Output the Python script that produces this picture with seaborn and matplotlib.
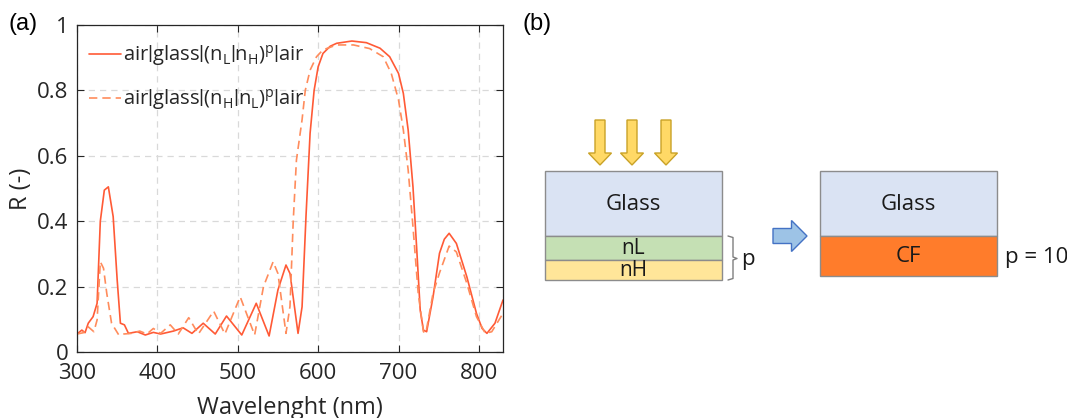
import matplotlib
matplotlib.use("Agg")
import matplotlib.pyplot as plt
import matplotlib.patches as mpatches
import seaborn as sns
import pandas as pd

# -- Data -----------------------------------------------------------------------
wl_lh = [300, 306, 310, 314, 320, 325, 329, 334, 339, 345, 350, 354, 359, 364,
         375, 385, 395, 404, 420, 432, 443, 457, 472, 486, 505, 523, 539, 550,
         560, 565, 575, 580, 585, 590, 595, 600, 606, 615, 623, 642, 660, 677,
         689, 700, 706, 712, 718, 722.5, 727, 731, 735, 743, 751, 757, 763, 772,
         785, 797, 804, 810, 820, 830]
r_lh = [0.055, 0.067, 0.059, 0.088, 0.108, 0.149, 0.40, 0.495, 0.505, 0.414,
        0.22, 0.088, 0.083, 0.057, 0.062, 0.052, 0.060, 0.055, 0.064, 0.074,
        0.057, 0.088, 0.055, 0.110, 0.052, 0.149, 0.049, 0.19, 0.266, 0.24,
        0.057, 0.138, 0.42, 0.669, 0.80, 0.872, 0.913, 0.935, 0.944, 0.951,
        0.946, 0.929, 0.903, 0.852, 0.791, 0.679, 0.505, 0.322, 0.128, 0.067,
        0.062, 0.169, 0.302, 0.345, 0.363, 0.332, 0.230, 0.118, 0.072, 0.057,
        0.088, 0.159]

wl_hl = [300, 308, 314, 321, 325, 329, 333, 337, 343, 352, 358, 368, 378, 387,
         395, 404, 416, 426, 439, 451, 470, 484, 503, 521, 532, 544, 550, 560,
         565, 569, 573, 580, 584, 590, 598, 606, 623, 644, 664, 681, 691, 700,
         706, 712, 718, 724.5, 731, 734, 743, 751, 763, 772, 785, 797, 808, 816,
         830]
r_hl = [0.055, 0.059, 0.077, 0.062, 0.098, 0.276, 0.256, 0.18, 0.088, 0.052,
        0.055, 0.057, 0.064, 0.055, 0.072, 0.057, 0.083, 0.055, 0.105, 0.055,
        0.125, 0.055, 0.169, 0.052, 0.20, 0.276, 0.24, 0.057, 0.14, 0.40, 0.587,
        0.71, 0.80, 0.862, 0.903, 0.924, 0.939, 0.939, 0.928, 0.903, 0.852,
        0.771, 0.679, 0.557, 0.383, 0.18, 0.062, 0.058, 0.18, 0.242, 0.324,
        0.306, 0.21, 0.108, 0.057, 0.062, 0.118]

x_ticks = [300, 400, 500, 600, 700, 800]
y_ticks = [0, 0.2, 0.4, 0.6, 0.8, 1]
y_tick_labels = ["0", "0.2", "0.4", "0.6", "0.8", "1"]

# pipes drawn with the narrower sans (Roboto) so they sit tight like the original
bar = r"\mathsf{|}"
label_lh = r"$\mathregular{air" + bar + "glass" + bar + "(n_L" + bar + "n_H)^p" + bar + "air}$"
label_hl = r"$\mathregular{air" + bar + "glass" + bar + "(n_H" + bar + "n_L)^p" + bar + "air}$"

# -- Style ----------------------------------------------------------------------
sns.set_theme(style="ticks")
plt.rcParams["font.family"] = ["Open Sans", "DejaVu Sans"]
plt.rcParams["mathtext.fontset"] = "custom"
plt.rcParams["mathtext.rm"] = "Open Sans"
plt.rcParams["mathtext.sf"] = "Roboto"
plt.rcParams["text.color"] = "#262626"

W, H = 1067, 418
fig = plt.figure(figsize=(W / 100, H / 100), dpi=100)

# -- (a) reflectance spectrum ---------------------------------------------------
ax = fig.add_axes([77 / W, (H - 352) / H, 426 / W, 327 / H])
df_lh = pd.DataFrame({"wl": wl_lh, "R": r_lh})
df_hl = pd.DataFrame({"wl": wl_hl, "R": r_hl})
sns.lineplot(data=df_lh, x="wl", y="R", ax=ax, color="#FF5A36", lw=1.2,
             label=label_lh)
sns.lineplot(data=df_hl, x="wl", y="R", ax=ax, color="#FF8C5C", lw=1.2,
             dashes=False, linestyle=(0, (5, 3)), label=label_hl)

ax.set_xlim(300, 830)
ax.set_ylim(0, 1)
ax.set_xticks(x_ticks)
ax.set_yticks(y_ticks)
ax.set_yticklabels(y_tick_labels)
ax.grid(True, color="#D9D9D9", lw=0.9, linestyle=(0, (5, 4)))
ax.tick_params(direction="in", top=True, right=True, length=5, width=0.8,
               labelsize=16, labelcolor="#262626", color="#262626")
ax.tick_params(axis="x", pad=8)
ax.tick_params(axis="y", pad=6)
for s in ax.spines.values():
    s.set_color("#262626")
    s.set_linewidth(0.9)
ax.set_xlabel("Wavelenght (nm)", fontsize=17, va="top")
ax.xaxis.set_label_coords(0.5, -0.135)
ax.set_ylabel("R (-)", fontsize=17)
ax.yaxis.set_label_coords(-0.103, 0.5)
leg = ax.legend(loc="upper left", frameon=False, fontsize=14.5,
                handlelength=1.6, handletextpad=0.1, labelspacing=0.95,
                borderaxespad=0, borderpad=0,
                bbox_to_anchor=(0.028, 0.945))

fig.text(8 / W, 1 - 24 / H, "(a)", fontsize=17, family="Liberation Sans",
         va="center", ha="left", color="black")
fig.text(522 / W, 1 - 24 / H, "(b)", fontsize=17, family="Liberation Sans",
         va="center", ha="left", color="black")

# -- (b) layer schematic --------------------------------------------------------
dx = fig.add_axes([0, 0, 1, 1], zorder=-1)
dx.set_xlim(0, W)
dx.set_ylim(H, 0)
dx.axis("off")

edge = "#8C8C8C"
glass = "#DAE3F3"
txt = "#1A1A1A"
# left stack
dx.add_patch(mpatches.Rectangle((545, 171), 177, 65, fc=glass, ec=edge, lw=1))
dx.add_patch(mpatches.Rectangle((545, 236), 177, 24, fc="#C5E0B4", ec=edge, lw=1))
dx.add_patch(mpatches.Rectangle((545, 260), 177, 20, fc="#FFE699", ec=edge, lw=1))
dx.text(633.5, 205, "Glass", fontsize=16, ha="center", va="center", color=txt)
dx.text(633.5, 248, "nL", fontsize=15, ha="center", va="center", color=txt)
dx.text(633.5, 270, "nH", fontsize=15, ha="center", va="center", color=txt)

# incoming light arrows
for xc in [600, 632, 666]:
    dx.add_patch(mpatches.FancyArrow(xc, 120, 0, 45, width=10, head_width=23,
                                     head_length=12, length_includes_head=True,
                                     fc="#FFD966", ec="#C9A227", lw=1))

# brace + p
dx.plot([728, 733, 733, 737, 733, 733, 728],
        [236, 237.5, 257, 258.5, 260, 278.5, 280], color="#7F7F7F", lw=1)
dx.text(741, 259, "p", fontsize=16, ha="left", va="center", color=txt)

# blue arrow
dx.add_patch(mpatches.FancyArrow(773, 236, 34, 0, width=15, head_width=31,
                                 head_length=15.5, length_includes_head=True,
                                 fc="#9DC3E6", ec="#4472C4", lw=1))

# right stack
dx.add_patch(mpatches.Rectangle((820, 171), 177, 65, fc=glass, ec=edge, lw=1))
dx.add_patch(mpatches.Rectangle((820, 236), 177, 40, fc="#FF7C2B", ec=edge, lw=1))
dx.text(908, 205, "Glass", fontsize=16, ha="center", va="center", color=txt)
dx.text(908, 257, "CF", fontsize=16, ha="center", va="center", color=txt)
dx.text(1005, 257, "p = 10", fontsize=16, ha="left", va="center", color=txt)

fig.savefig("out.png", dpi=100)
